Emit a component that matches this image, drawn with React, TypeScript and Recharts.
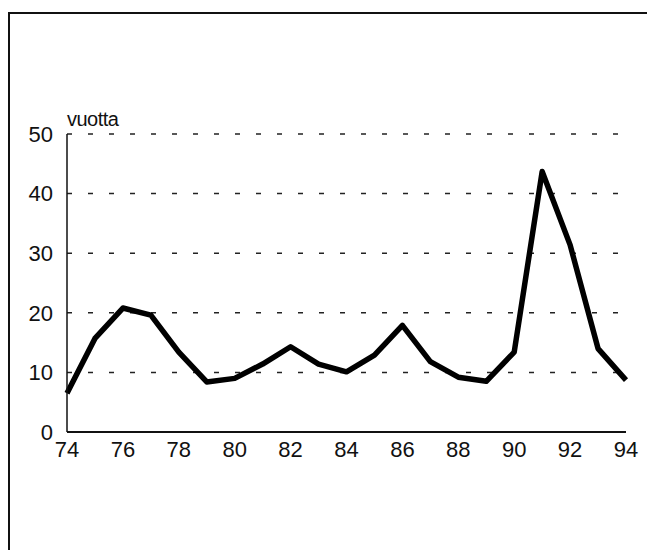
import React from "react";
import { LineChart, Line, XAxis, YAxis, CartesianGrid } from "recharts";

const years = [74, 75, 76, 77, 78, 79, 80, 81, 82, 83, 84, 85, 86, 87, 88, 89, 90, 91, 92, 93, 94];
const vuotta = [6.5, 15.7, 20.8, 19.6, 13.4, 8.4, 9.0, 11.4, 14.3, 11.4, 10.1, 12.9, 17.9, 11.8, 9.2, 8.5, 13.4, 43.7, 31.4, 14.0, 8.7];
const xTicks = [74, 76, 78, 80, 82, 84, 86, 88, 90, 92, 94];
const yTicks = [0, 10, 20, 30, 40, 50];

const FONT = "'Liberation Sans', Arial, sans-serif";

export default function App() {
    const data = years.map((y, i) => ({ year: y, value: vuotta[i] }));

    return (
        <div
            style={{
                position: "absolute",
                left: 0,
                top: 0,
                width: 647,
                height: 550,
                overflow: "hidden",
                background: "#fff",
                fontFamily: FONT,
            }}
        >
            {/* frame: only top and left edges are visible in the scan */}
            <div
                style={{
                    position: "absolute",
                    left: 8,
                    top: 12,
                    right: -20,
                    bottom: -20,
                    borderTop: "2px solid #111",
                    borderLeft: "2px solid #111",
                }}
            />
            <div
                style={{
                    position: "absolute",
                    left: 67,
                    top: 109,
                    fontSize: 20,
                    lineHeight: "21px",
                    letterSpacing: -0.5,
                    color: "#111",
                }}
            >
                vuotta
            </div>
            <div style={{ position: "absolute", left: 0, top: 0 }}>
                <LineChart
                    width={647}
                    height={550}
                    data={data}
                    margin={{ top: 134, right: 21, bottom: 58, left: 0 }}
                >
                    <CartesianGrid
                        vertical={false}
                        stroke="#222"
                        strokeWidth={1.5}
                        strokeDasharray="5 16"
                    />
                    <XAxis
                        dataKey="year"
                        type="number"
                        domain={[74, 94]}
                        ticks={xTicks}
                        interval={0}
                        tickLine={false}
                        tickSize={0}
                        tickMargin={9}
                        axisLine={{ stroke: "#111", strokeWidth: 2 }}
                        tick={{ fill: "#111", fontSize: 22, fontFamily: FONT }}
                        height={60}
                    />
                    <YAxis
                        type="number"
                        domain={[0, 50]}
                        ticks={yTicks}
                        interval={0}
                        width={67}
                        tickLine={false}
                        tickSize={0}
                        tickMargin={14}
                        axisLine={{ stroke: "#111", strokeWidth: 1.5 }}
                        tick={{ fill: "#111", fontSize: 22, fontFamily: FONT }}
                    />
                    <Line
                        type="linear"
                        dataKey="value"
                        stroke="#000"
                        strokeWidth={5.5}
                        strokeLinejoin="round"
                        dot={false}
                        activeDot={false}
                        isAnimationActive={false}
                    />
                </LineChart>
            </div>
        </div>
    );
}
